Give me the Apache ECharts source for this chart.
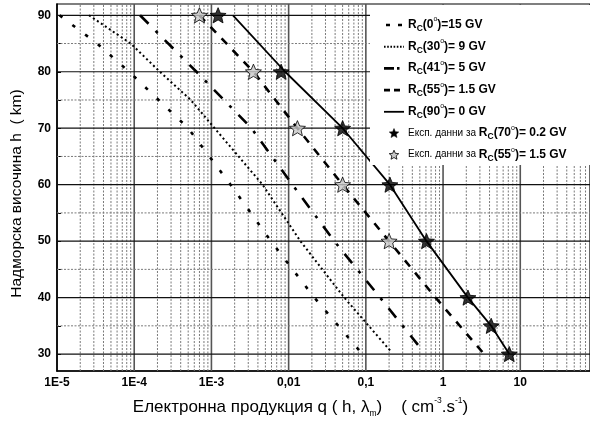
<!DOCTYPE html>
<html>
<head>
<meta charset="utf-8">
<script src="https://cdn.jsdelivr.net/npm/echarts@6/dist/echarts.min.js"></script>
<style>
  html, body { margin: 0; padding: 0; background: #fff; }
  #chart { width: 590px; height: 426px; }
</style>
</head>
<body>
<div id="chart"></div>
<script>
// Electron production q(h, λm) versus altitude for several cut-off rigidities.
// Altitudes (km) and production values (cm^-3.s^-1) for each curve.
const hRc0  = [90, 85, 80, 75, 70, 65, 60, 50, 40, 30.5];
const qRc0  = [1.08e-5, 3.3e-5, 8.6e-5, 2.07e-4, 5.0e-4, 9.4e-4, 1.77e-3, 5.9e-3, 0.0215, 0.084];

const hRc30 = [90, 85, 80, 75, 70, 60, 50, 40, 30.5];
const qRc30 = [2.6e-5, 9.0e-5, 2.15e-4, 5.4e-4, 1.1e-3, 4.6e-3, 0.0142, 0.0525, 0.21];

const hRc41 = [90, 80, 70, 60, 50, 40, 30.5];
const qRc41 = [1.19e-4, 6.4e-4, 3.3e-3, 0.0112, 0.039, 0.153, 0.55];

const hRc55 = [90, 80, 70, 60, 50, 40, 30];
const qRc55 = [7.0e-4, 3.5e-3, 0.013, 0.05, 0.2, 0.8, 3.4];

const hRc90 = [90, 80, 70, 60, 50, 40, 35, 30];
const qRc90 = [1.9e-3, 9.0e-3, 0.05, 0.205, 0.61, 2.1, 4.2, 7.2];

// Experimental points
const hExp70 = [90, 80, 70, 60, 50, 40, 35, 30];
const qExp70 = [1.22e-3, 8.0e-3, 0.05, 0.205, 0.61, 2.1, 4.2, 7.2];
const hExp55 = [90, 80, 70, 60, 50];
const qExp55 = [7.0e-4, 3.5e-3, 0.013, 0.05, 0.2];

// Axis ticks
const yLabelValues = [30, 40, 50, 60, 70, 80, 90];
const yMinorValues = [35, 45, 55, 65, 75, 85];
const xDecades = [1e-5, 1e-4, 1e-3, 0.01, 0.1, 1, 10];
const xTickLabels = ['1E-5', '1E-4', '1E-3', '0,01', '0,1', '1', '10'];

const X_MIN = 1e-5, X_MAX = 80, Y_MIN = 27, Y_MAX = 92;

function pairs(q, h) { return q.map((v, i) => [v, h[i]]); }

// intermediate decade lines 2..9 × 10^n
const xMinorValues = [];
for (let e = -5; e <= 1; e++) {
  for (let k = 2; k <= 9; k++) {
    const v = +(k * Math.pow(10, e)).toPrecision(6);
    if (v < X_MAX) xMinorValues.push(v);
  }
}

const STAR = 'path://M0,-10L2.645,-3.64L9.51,-3.09L4.28,1.39L5.88,8.09L0,4.5L-5.88,8.09L-4.28,1.39L-9.51,-3.09L-2.645,-3.64Z';
const FONT = '"Liberation Sans", Arial, sans-serif';

// grid rows: [x, y, kind] — kind 0/1 vertical (minor/decade), 2/3 horizontal (minor/major)
const gridData = []
  .concat(xMinorValues.map(v => [v, Y_MIN, 0]))
  .concat(xDecades.slice(1).map(v => [v, Y_MIN, 1]))
  .concat(yMinorValues.map(v => [X_MIN, v, 2]))
  .concat(yLabelValues.map(v => [X_MIN, v, 3]));
const gridStyles = [
  { stroke: '#7a7a7a', lineWidth: 1, lineDash: [2, 1.5] },
  { stroke: '#555', lineWidth: 1.6, lineDash: null },
  { stroke: '#7a7a7a', lineWidth: 1, lineDash: [2, 1.5] },
  { stroke: '#111', lineWidth: 1.2, lineDash: null }
];

const curves = [
  { name: 'Rc0',  q: qRc0,  h: hRc0,  dash: [3.5, 12.5],     width: 2.6 },
  { name: 'Rc30', q: qRc30, h: hRc30, dash: [2, 2.8],        width: 2 },
  { name: 'Rc41', q: qRc41, h: hRc41, dash: [12, 10, 3, 10], width: 2.6 },
  { name: 'Rc55', q: qRc55, h: hRc55, dash: [8, 8],          width: 2.6 },
  { name: 'Rc90', q: qRc90, h: hRc90, dash: 'solid',         width: 1.8 }
];

const series = [{
  type: 'custom', name: 'grid', data: gridData, z: 1, silent: true, animation: false,
  encode: { x: 0, y: 1 },
  renderItem: (params, api) => {
    const kind = api.value(2);
    let p1, p2;
    if (kind < 2) {
      p1 = api.coord([api.value(0), Y_MIN]);
      p2 = api.coord([api.value(0), Y_MAX]);
    } else {
      p1 = api.coord([X_MIN, api.value(1)]);
      p2 = api.coord([X_MAX, api.value(1)]);
    }
    return {
      type: 'line',
      shape: { x1: p1[0], y1: p1[1], x2: p2[0], y2: p2[1] },
      style: Object.assign({ fill: null }, gridStyles[kind])
    };
  }
}];

curves.forEach(c => series.push({
  type: 'line', name: c.name, data: pairs(c.q, c.h),
  symbol: 'none', z: 2, silent: true, animation: false,
  lineStyle: { color: '#000', width: c.width, type: c.dash, cap: 'butt' }
}));

series.push({
  type: 'scatter', name: 'exp55', data: pairs(qExp55, hExp55), z: 3,
  symbol: STAR, symbolSize: 16, symbolKeepAspect: true, animation: false,
  itemStyle: { color: '#c8c8c8', borderColor: '#000', borderWidth: 1 }
});
series.push({
  type: 'scatter', name: 'exp70', data: pairs(qExp70, hExp70), z: 3,
  symbol: STAR, symbolSize: 16, symbolKeepAspect: true, animation: false,
  itemStyle: { color: '#000', borderColor: '#000', borderWidth: 1 }
});

// Legend block
const legendRows = [
  '{b|R}{s|C}{b|(0}{u|o}{b|)=15 GV}',
  '{b|R}{s|C}{b|(30}{u|o}{b|)= 9 GV}',
  '{b|R}{s|C}{b|(41}{u|o}{b|)= 5 GV}',
  '{b|R}{s|C}{b|(55}{u|o}{b|)= 1.5 GV}',
  '{b|R}{s|C}{b|(90}{u|o}{b|)= 0 GV}',
  '{e|Експ. данни за }{b|R}{s|C}{b|(70}{u|o}{b|)= 0.2 GV}',
  '{e|Експ. данни за }{b|R}{s|C}{b|(55}{u|o}{b|)= 1.5 GV}'
];
const richLegend = {
  b: { fontFamily: FONT, fontWeight: 'bold', fontSize: 12, lineHeight: 17, color: '#000' },
  s: { fontFamily: FONT, fontWeight: 'bold', fontSize: 8.5, lineHeight: 9, verticalAlign: 'bottom', color: '#000' },
  u: { fontFamily: FONT, fontSize: 7, lineHeight: 8, verticalAlign: 'top', color: '#000' },
  e: { fontFamily: FONT, fontSize: 10, lineHeight: 17, color: '#000' }
};

function starPoints(cx, cy, R, r) {
  const pts = [];
  for (let i = 0; i < 10; i++) {
    const a = -Math.PI / 2 + i * Math.PI / 5;
    const rad = i % 2 ? r : R;
    pts.push([cx + rad * Math.cos(a), cy + rad * Math.sin(a)]);
  }
  return pts;
}

const LX = 384, LX2 = 404, LTX = 408, LY0 = 25, LDY = 21.7;
const legendEls = [{
  type: 'rect', z: 50, shape: { x: 370, y: 5, width: 222, height: 160 },
  style: { fill: '#fff' }
}];
const sampleDash = [[4, 8], [1.6, 1.6], [10, 3, 2.5, 10], [6, 4], null];
const sampleWidth = [2.6, 2, 2.6, 2.6, 1.8];
for (let i = 0; i < 5; i++) {
  const y = LY0 + i * LDY;
  legendEls.push({
    type: 'line', z: 51,
    shape: { x1: LX + (i === 0 ? 2 : 0), y1: y, x2: LX2 - (i === 0 ? 1 : 0), y2: y },
    style: { stroke: '#000', lineWidth: sampleWidth[i], lineDash: sampleDash[i] }
  });
}
legendEls.push({
  type: 'polygon', z: 51, shape: { points: starPoints(394, LY0 + 5 * LDY, 5, 2.3) },
  style: { fill: '#000', stroke: '#000', lineWidth: 0.5 }
});
legendEls.push({
  type: 'polygon', z: 51, shape: { points: starPoints(394, LY0 + 6 * LDY, 5, 2.3) },
  style: { fill: '#c8c8c8', stroke: '#000', lineWidth: 0.8 }
});
legendRows.forEach((t, i) => legendEls.push({
  type: 'text', z: 52, left: LTX, top: LY0 + i * LDY - 9,
  style: { text: t, rich: richLegend, fill: '#000' }
}));

const chart = echarts.init(document.getElementById('chart'), null, { renderer: 'canvas' });
chart.setOption({
  backgroundColor: '#fff',
  animation: false,
  grid: { left: 57, right: -2, top: 4, bottom: 55, show: true, borderColor: '#000', borderWidth: 1.2, backgroundColor: 'transparent' },
  xAxis: {
    type: 'log', logBase: 10, min: X_MIN, max: X_MAX,
    axisLine: { show: true, onZero: false, lineStyle: { color: '#000', width: 1.6 } },
    axisTick: { show: false },
    splitLine: { show: false },
    axisLabel: {
      margin: 6, fontFamily: FONT, fontWeight: 'bold', fontSize: 12, color: '#000',
      showMaxLabel: false,
      formatter: v => {
        const i = xDecades.findIndex(d => Math.abs(Math.log10(d) - Math.log10(v)) < 1e-6);
        return i >= 0 ? xTickLabels[i] : '';
      }
    },
    name: '{t|Електронна продукция q ( h, λ}{sub|m}{t|)    ( cm}{sup|-3}{t|.s}{sup|-1}{t|)}',
    nameLocation: 'middle', nameGap: 25,
    nameTextStyle: {
      padding: [0, 46, 0, 0],
      rich: {
        t: { fontFamily: FONT, fontSize: 17, lineHeight: 22, color: '#000' },
        sub: { fontFamily: FONT, fontSize: 8.5, lineHeight: 9, verticalAlign: 'bottom', color: '#000' },
        sup: { fontFamily: FONT, fontSize: 8.5, lineHeight: 9, verticalAlign: 'top', color: '#000' }
      }
    }
  },
  yAxis: {
    type: 'value', min: Y_MIN, max: Y_MAX,
    axisLine: { show: true, onZero: false, lineStyle: { color: '#000', width: 1.6 } },
    axisTick: { show: true, inside: true, length: 4, customValues: yLabelValues.concat(yMinorValues), lineStyle: { color: '#000' } },
    splitLine: { show: false },
    axisLabel: {
      customValues: yLabelValues, margin: 6,
      fontFamily: FONT, fontWeight: 'bold', fontSize: 12, color: '#000'
    },
    name: 'Надморска височина h  ( km)',
    nameLocation: 'middle', nameGap: 32,
    nameTextStyle: { fontFamily: FONT, fontSize: 15.5, color: '#000', padding: [0, 12, 0, 0] }
  },
  series: series,
  graphic: { elements: legendEls }
});
</script>
</body>
</html>
